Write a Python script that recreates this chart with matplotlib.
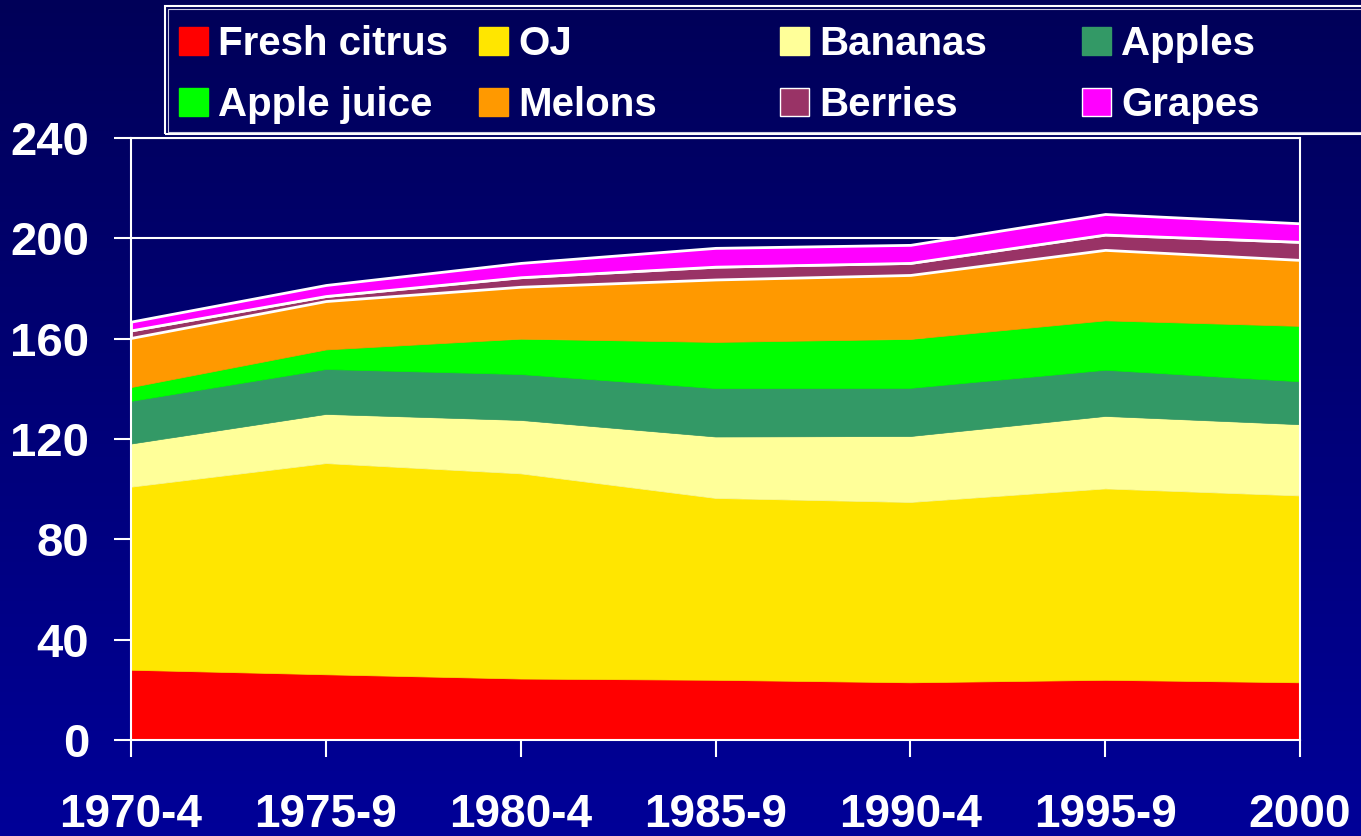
import numpy as np
import matplotlib.pyplot as plt
from matplotlib.patches import Rectangle

periods = ["1970-4", "1975-9", "1980-4", "1985-9", "1990-4", "1995-9", "2000"]
series = ["Fresh citrus", "OJ", "Bananas", "Apples",
          "Apple juice", "Melons", "Berries", "Grapes"]
colors = ["#FF0000", "#FFE600", "#FFFF99", "#339966",
          "#00FF00", "#FF9900", "#993366", "#FF00FF"]

fresh_citrus = [28, 26.2, 24.5, 24, 23, 24, 23]
oj = [73, 84.2, 81.8, 72.5, 71.9, 76.3, 74.5]
bananas = [17.2, 19.6, 21.3, 24.5, 26.3, 28.9, 28.4]
apples = [17, 17.9, 18.3, 19.3, 19.2, 18.4, 17.1]
apple_juice = [5.5, 7.8, 14.1, 18.4, 19.5, 19.7, 22.1]
melons = [19.6, 19.3, 20.7, 24.9, 25.5, 28.1, 26.3]
berries = [3, 2, 3.8, 5.1, 4.8, 6.1, 7.2]
grapes = [3.5, 4.4, 5.7, 7.5, 7.2, 8.2, 7.4]

W, H = 1361, 836
fig = plt.figure(figsize=(W / 100, H / 100), dpi=100)

# gradient background
bg = fig.add_axes([0, 0, 1, 1], zorder=-10)
grad = np.linspace(0, 1, 256).reshape(-1, 1)
top = np.array([0, 0, 0x58]) / 255
bot = np.array([0, 0, 0x98]) / 255
img = top + grad[..., None] * (bot - top)
bg.imshow(img, aspect="auto", extent=[0, 1, 0, 1], origin="upper")
bg.axis("off")

ax = fig.add_axes([131 / W, 1 - 740 / H, (1300 - 131) / W, (740 - 138) / H])
ax.set_facecolor("none")

x = np.arange(len(periods))
data = [fresh_citrus, oj, bananas, apples, apple_juice, melons, berries, grapes]
polys = ax.stackplot(x, data, colors=colors, labels=series, linewidth=0)
for p in polys[-2:]:
    p.set_edgecolor("white")
    p.set_linewidth(2)
for p in polys[:-2]:
    p.set_edgecolor(p.get_facecolor())
    p.set_linewidth(0.5)

ax.set_xlim(0, len(periods) - 1)
ax.set_ylim(0, 240)
ax.set_yticks(range(0, 241, 40))
ax.set_xticks(x)
ax.set_xticklabels(periods)
ax.yaxis.grid(True, color="white", linewidth=1.5, zorder=0)
ax.set_axisbelow(True)
for s in ax.spines.values():
    s.set_color("white")
    s.set_linewidth(1.5)
ax.tick_params(axis="y", direction="out", length=12, width=1.5, color="white",
               labelcolor="white", pad=18, labelsize=34)
ax.tick_params(axis="x", direction="out", length=12, width=1.5, color="white",
               labelcolor="white", pad=26, labelsize=33)
for lbl in ax.get_xticklabels() + ax.get_yticklabels():
    lbl.set_fontfamily("Liberation Sans")
    lbl.set_fontweight("bold")

# legend drawn as a grid, box runs off the right edge like the original
def fx(px):
    return px / W

def fy(py):
    return 1 - py / H

fig.patches.append(Rectangle((fx(165), fy(134)), fx(1361 - 165 + 20), 128 / H,
                             transform=fig.transFigure, fill=False,
                             edgecolor="white", linewidth=1.5, clip_on=False))
fig.patches.append(Rectangle((fx(167.5), fy(131.5)), fx(1361 - 165 + 20), 123 / H,
                             transform=fig.transFigure, fill=False,
                             edgecolor="#c8c8e0", linewidth=0.8, clip_on=False))
col_x = [179, 479, 780, 1082]
row_y = [27, 88]
for i, (name, c) in enumerate(zip(series, colors)):
    r, cidx = divmod(i, 4)
    px, py = col_x[cidx], row_y[r]
    edge = "white" if name in ("Berries", "Grapes") else c
    fig.patches.append(Rectangle((fx(px), fy(py + 28)), 29 / W, 28 / H,
                                 transform=fig.transFigure, facecolor=c,
                                 edgecolor=edge, linewidth=1))
    fig.text(fx(px + 39), fy(py + 28), name, color="white", fontsize=29,
             fontweight="bold", family="Liberation Sans", va="baseline")

fig.savefig("out.png", dpi=100)
